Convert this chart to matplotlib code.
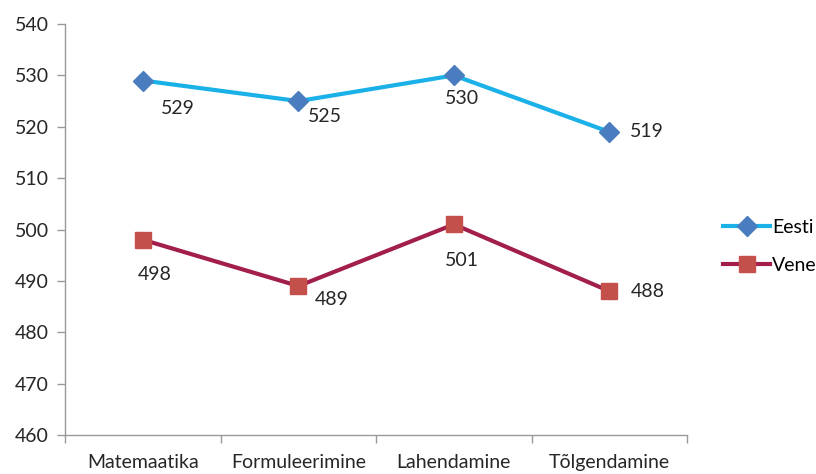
import matplotlib
matplotlib.use("Agg")
import matplotlib.pyplot as plt
from matplotlib.ticker import FixedLocator, NullFormatter

categories = ["Matemaatika", "Formuleerimine", "Lahendamine", "Tõlgendamine"]
eesti = [529, 525, 530, 519]
vene = [498, 489, 501, 488]
yticks = [460, 470, 480, 490, 500, 510, 520, 530, 540]

plt.rcParams['font.family'] = ['Lato', 'DejaVu Sans']
FS = 14

fig = plt.figure(figsize=(8.16, 4.74), dpi=100)
ax = fig.add_axes([0.080, 0.0823, 0.762, 0.867])

x = list(range(len(categories)))
ax.plot(x, eesti, color='#1AB0E8', lw=3, marker='D', ms=10,
        mfc='#4A7CC0', mec='#4A7CC0', label='Eesti', zorder=3)
ax.plot(x, vene, color='#A21E4C', lw=3, marker='s', ms=11,
        mfc='#C4504C', mec='#C4504C', label='Vene', zorder=3)

e_off = [(35, -28), (26, -15), (8, -23), (38, 0)]
v_off = [(12, -35), (33, -13), (8, -36), (38, 0)]
for xi, v, o in zip(x, eesti, e_off):
    ax.annotate(str(v), (xi, v), xytext=o, textcoords='offset pixels',
                ha='center', va='center', fontsize=FS, color='#262626')
for xi, v, o in zip(x, vene, v_off):
    ax.annotate(str(v), (xi, v), xytext=o, textcoords='offset pixels',
                ha='center', va='center', fontsize=FS, color='#262626')

ax.set_xlim(-0.5, 3.5)
ax.set_ylim(460, 540)
ax.set_yticks(yticks)
ax.set_xticks(x)
ax.set_xticklabels(categories, fontsize=FS, color='#262626')
ax.xaxis.set_minor_locator(FixedLocator([-0.5, 0.5, 1.5, 2.5, 3.5]))
ax.xaxis.set_minor_formatter(NullFormatter())
ax.tick_params(axis='x', which='major', length=0, pad=14)
ax.tick_params(axis='x', which='minor', length=6, color='#999999', width=1)
ax.tick_params(axis='y', length=6, color='#999999', width=1, labelsize=FS,
               labelcolor='#262626', pad=6)
for s in ['top', 'right']:
    ax.spines[s].set_visible(False)
for s in ['left', 'bottom']:
    ax.spines[s].set_color('#999999')
    ax.spines[s].set_linewidth(1)

fig.legend(loc='center left', bbox_to_anchor=(0.865, 0.48), frameon=False,
           fontsize=FS, handlelength=2.4, handletextpad=0.1, labelspacing=1.1)

fig.savefig('out.png', dpi=100)
